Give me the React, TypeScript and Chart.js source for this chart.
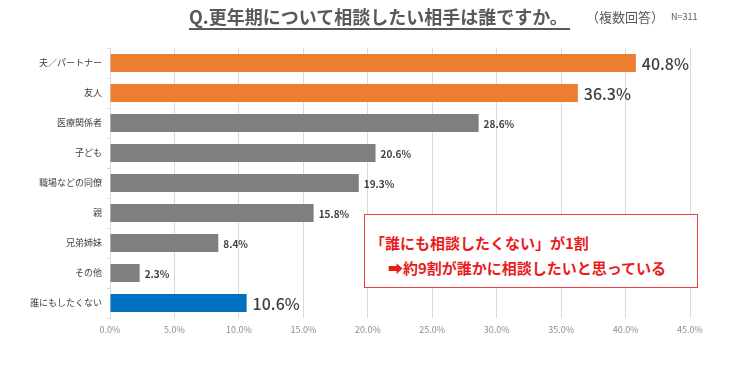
import React, { useEffect, useRef } from "react";
import { Chart, registerables } from "chart.js";

Chart.register(...registerables);

const categories = ["夫／パートナー", "友人", "医療関係者", "子ども", "職場などの同僚", "親", "兄弟姉妹", "その他", "誰にもしたくない"];
const values = [40.8, 36.3, 28.6, 20.6, 19.3, 15.8, 8.4, 2.3, 10.6];
const barColors = ["#ED7D31", "#ED7D31", "#7F7F7F", "#7F7F7F", "#7F7F7F", "#7F7F7F", "#7F7F7F", "#7F7F7F", "#0070C0"];
const bigLabel = [true, true, false, false, false, false, false, false, true];
const xTicks = [0, 5, 10, 15, 20, 25, 30, 35, 40, 45];

const FONT = "'Noto Sans CJK JP', 'Noto Sans', sans-serif";

const labelPlugin = {
  id: "valueLabels",
  afterDatasetsDraw(chart: any) {
    const ctx = chart.ctx;
    const meta = chart.getDatasetMeta(0);
    ctx.save();
    ctx.textBaseline = "middle";
    ctx.textAlign = "left";
    meta.data.forEach((bar: any, i: number) => {
      const big = bigLabel[i];
      ctx.font = big ? `500 16px ${FONT}` : `bold 10px ${FONT}`;
      ctx.fillStyle = "#404040";
      ctx.fillText(values[i].toFixed(1) + "%", bar.x + (big ? 6 : 5), bar.y + 1);
    });
    ctx.restore();
  },
};

export default function App() {
  const ref = useRef<HTMLCanvasElement>(null);
  useEffect(() => {
    const chart = new Chart(ref.current!, {
      type: "bar",
      data: {
        labels: categories,
        datasets: [
          {
            data: values,
            backgroundColor: barColors,
            borderWidth: 0,
            barPercentage: 0.6,
            categoryPercentage: 1,
          },
        ],
      },
      options: {
        indexAxis: "y",
        animation: false,
        responsive: false,
        maintainAspectRatio: false,
        layout: { padding: { top: 48, right: 56, left: 0, bottom: 0 } },
        plugins: { legend: { display: false }, tooltip: { enabled: false } },
        scales: {
          x: {
            min: 0,
            max: 45,
            afterBuildTicks: (s: any) => {
              s.ticks = xTicks.map((v) => ({ value: v }));
            },
            ticks: {
              callback: (v: any) => Number(v).toFixed(1) + "%",
              color: "#8c8c8c",
              font: { family: FONT, size: 9 },
              padding: 6,
              maxRotation: 0,
            },
            grid: { color: "#d9d9d9", drawTicks: false },
            border: { display: false },
            afterFit: (s: any) => {
              s.height = 53;
            },
          },
          y: {
            ticks: {
              color: "#404040",
              font: { family: FONT, size: 9 },
              padding: 5,
              autoSkip: false,
            },
            grid: { drawOnChartArea: false, drawTicks: true, tickLength: 3, color: "#d9d9d9", offset: true },
            border: { display: true, color: "#d9d9d9" },
            afterFit: (s: any) => {
              s.width = 110;
            },
          },
        },
      },
      plugins: [labelPlugin],
    } as any);
    return () => chart.destroy();
  }, []);

  return (
    <div style={{ position: "absolute", left: 0, top: 0, width: 746, height: 371, background: "#fff", fontFamily: FONT }}>
      <canvas ref={ref} width={746} height={371} style={{ position: "absolute", left: 0, top: 0 }} />
      <div
        style={{
          position: "absolute",
          left: 189,
          top: 4,
          fontSize: 18,
          fontWeight: 700,
          color: "#595959",
          borderBottom: "2px solid #595959",
          lineHeight: "24px",
          whiteSpace: "nowrap",
          paddingRight: 2,
        }}
      >
        Q.更年期について相談したい相手は誰ですか。
      </div>
      <div style={{ position: "absolute", left: 586, top: 8, fontSize: 13, color: "#595959", whiteSpace: "nowrap", lineHeight: "18px" }}>
        （複数回答）
      </div>
      <div style={{ position: "absolute", left: 671, top: 10, fontSize: 9, color: "#595959", whiteSpace: "nowrap", lineHeight: "14px" }}>
        N=311
      </div>
      <div
        style={{
          position: "absolute",
          left: 364,
          top: 214,
          width: 334,
          height: 74,
          border: "1px solid #E84040",
          background: "#fff",
          boxSizing: "border-box",
        }}
      >
        <div style={{ position: "absolute", left: 5, top: 18, fontSize: 15, fontWeight: 700, color: "#E81C1C", whiteSpace: "nowrap", lineHeight: "20px" }}>
          「誰にも相談したくない」が1割
        </div>
        <div style={{ position: "absolute", left: 23, top: 43, fontSize: 15, fontWeight: 700, color: "#E81C1C", whiteSpace: "nowrap", lineHeight: "20px" }}>
          ➡約9割が誰かに相談したいと思っている
        </div>
      </div>
    </div>
  );
}
